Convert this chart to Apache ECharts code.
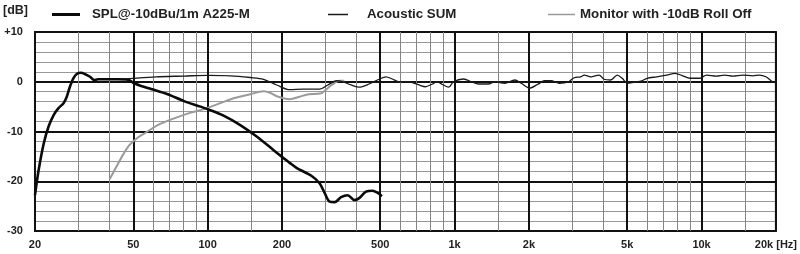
<!DOCTYPE html>
<html>
<head>
<meta charset="utf-8">
<script src="https://cdn.jsdelivr.net/npm/echarts@6/dist/echarts.min.js"></script>
<style>
html,body{margin:0;padding:0;background:#fff;}
#chart{width:800px;height:254px;}
</style>
</head>
<body>
<div id="chart"></div>
<script>
// ---- Data ----
const splFreq = [20, 20.7, 21.7, 22.7, 23.8, 24.9, 26.1, 26.9, 27.7, 28.6, 29.5, 30.7, 31.8, 33.4, 34.7, 36.0, 39.5, 43.4, 47.6, 50.5, 53.8, 59, 68.9, 80.3, 93.7, 100, 116, 135.6, 158, 184.5, 199, 215, 229, 263, 284, 298, 312, 327, 347, 369, 393, 411, 438, 465, 487, 508];
const splDb   = [-22.8, -17.7, -12.4, -9.0, -6.7, -5.3, -4.3, -3.0, -1.0, 0.7, 1.56, 1.8, 1.56, 1.0, 0.35, 0.5, 0.5, 0.5, 0.4, -0.3, -0.85, -1.46, -2.5, -3.9, -5.0, -5.5, -6.8, -8.7, -11.0, -13.7, -15.0, -16.3, -17.3, -18.9, -20.4, -22.4, -24.1, -24.2, -23.2, -22.8, -23.8, -23.4, -22.1, -21.9, -22.3, -23.0];

const sumFreq = [36, 43.4, 46.1, 61.8, 80.3, 100, 123.6, 148.7, 168.3, 190.4, 215, 243.6, 284, 307, 332, 352.6, 381, 411, 451, 495, 527, 560, 596, 653, 717, 762, 810, 849, 889, 946, 990, 1086, 1173, 1248, 1369, 1456, 1597, 1752, 1862, 2013, 2174, 2313, 2458, 2656, 2868, 3051, 3243, 3348, 3558, 3845, 4027, 4282, 4556, 4772, 4997, 5316, 5741, 6011, 6594, 7230, 7808, 8439, 8970, 9840, 10470, 11480, 12400, 13400, 14700, 16130, 17140, 18230, 19390, 20000];
const sumDb   = [0.5, 0.5, 0.55, 1.0, 1.15, 1.3, 1.2, 0.85, 0.5, -0.65, -1.6, -1.5, -1.5, -0.65, 0.2, 0.0, -0.65, -1.1, -0.45, 0.5, 1.0, 0.55, 0.0, 0.0, -0.65, -1.0, -0.5, 0.0, -0.5, -1.1, 0.0, 0.55, 0.0, -0.45, -0.45, 0.0, -0.3, 0.35, -0.3, -1.3, -0.5, 0.2, 0.2, -0.3, -0.1, 0.8, 1.0, 1.35, 1.0, 1.35, 0.5, 0.35, 1.35, 0.7, -0.3, -0.1, 0.2, 0.7, 1.0, 1.35, 1.7, 1.15, 0.7, 0.7, 1.35, 1.15, 1.35, 1.15, 1.35, 1.2, 1.35, 1.0, 0.0, -0.2];

const monFreq = [40.1, 42.7, 45.4, 48.3, 52.2, 55.5, 62.8, 73.2, 85.4, 96.6, 112.7, 127.5, 148.7, 168.3, 179, 190.4, 215, 236, 251, 289, 298, 317, 342, 358];
const monDb   = [-19.6, -17.1, -14.7, -12.7, -11.2, -10.4, -8.7, -7.35, -6.2, -5.5, -4.3, -3.3, -2.5, -1.9, -2.2, -2.9, -3.5, -3.0, -2.6, -2.3, -1.8, -0.7, 0.2, 0.2];

const seriesNames = ['SPL@-10dBu/1m A225-M', 'Acoustic SUM', 'Monitor with -10dB Roll Off'];

const xMajorTicks  = [20, 50, 100, 200, 500, 1000, 2000, 5000, 10000, 20000];
const xMajorLabels = ['20', '50', '100', '200', '500', '1k', '2k', '5k', '10k', '20k [Hz]'];
const xMinorTicks  = [30, 40, 60, 70, 80, 90, 150, 300, 400, 600, 700, 800, 900, 1500, 3000, 4000, 6000, 7000, 8000, 9000, 15000];

const yMin = -30, yMax = 10, yStep = 10;

// ---- Chart ----
const zip = (a, b) => a.map((v, i) => [v, b[i]]);
const FONT = '"Liberation Sans", Arial, sans-serif';
const chart = echarts.init(document.getElementById('chart'), null, {renderer: 'canvas'});

function labelFor(v) {
  for (let i = 0; i < xMajorTicks.length; i++) {
    if (Math.abs(Math.log10(v / xMajorTicks[i])) < 0.01) return xMajorLabels[i];
  }
  return '';
}

const logAxisBase = {
  type: 'log', logBase: 10, min: 20, max: 20000, position: 'bottom',
  axisLine: {show: false},
  axisTick: {show: false}
};
const legendText = {fontFamily: FONT, fontSize: 13.3, fontWeight: 'bold', color: '#222'};

chart.setOption({
  animation: false,
  backgroundColor: '#fff',
  textStyle: {fontFamily: FONT},
  legend: [
    {left: 52, top: 8, padding: 0, itemWidth: 28, itemHeight: 3, icon: 'rect', data: [seriesNames[0]],
     textStyle: Object.assign({padding: [0, 0, 0, 7]}, legendText)},
    {left: 328, top: 8, padding: 0, itemWidth: 20, itemHeight: 1.5, icon: 'rect', data: [seriesNames[1]],
     textStyle: Object.assign({padding: [0, 0, 0, 14]}, legendText)},
    {left: 548, top: 8, padding: 0, itemWidth: 27, itemHeight: 1.5, icon: 'rect', data: [seriesNames[2]],
     textStyle: legendText}
  ],
  grid: {left: 33, right: 20, top: 32, bottom: 23, show: true, borderColor: '#111', borderWidth: 2, backgroundColor: 'transparent'},
  xAxis: [
    Object.assign({}, logAxisBase, {
      axisTick: {show: false, customValues: xMinorTicks},
      axisLabel: {show: false},
      splitLine: {show: true, lineStyle: {color: '#858585', width: 1}},
      z: 1
    }),
    Object.assign({}, logAxisBase, {
      axisTick: {show: false, customValues: xMajorTicks},
      axisLabel: {show: true, customValues: xMajorTicks, formatter: labelFor, margin: 8,
                  fontFamily: FONT, fontSize: 11, fontWeight: 'bold', color: '#222'},
      splitLine: {show: true, lineStyle: {color: '#111', width: 2}},
      z: 2
    })
  ],
  yAxis: {
    type: 'value', min: yMin, max: yMax, interval: yStep,
    name: '[dB]', nameLocation: 'end', nameGap: 15,
    nameTextStyle: {fontFamily: FONT, fontSize: 12.5, fontWeight: 'bold', color: '#222', align: 'right', padding: [0, 7, 0, 0]},
    axisLine: {show: false}, axisTick: {show: false},
    axisLabel: {margin: 12, fontFamily: FONT, fontSize: 11, fontWeight: 'bold', color: '#222',
                formatter: v => (v > 0 ? '+' + v : String(v))},
    splitLine: {show: true, lineStyle: {color: '#111', width: 2}},
    minorTick: {show: false, splitNumber: 5},
    minorSplitLine: {show: true, lineStyle: {color: '#999', width: 1}}
  },
  series: [
    {name: seriesNames[2], type: 'line', xAxisIndex: 0, data: zip(monFreq, monDb), symbol: 'none',
     smooth: 0.3, lineStyle: {color: '#9a9a9a', width: 2}, itemStyle: {color: '#9a9a9a'}, z: 3},
    {name: seriesNames[1], type: 'line', xAxisIndex: 0, data: zip(sumFreq, sumDb), symbol: 'none',
     smooth: 0.3, lineStyle: {color: '#1a1a1a', width: 1.3}, itemStyle: {color: '#1a1a1a'}, z: 4},
    {name: seriesNames[0], type: 'line', xAxisIndex: 0, data: zip(splFreq, splDb), symbol: 'none',
     smooth: 0.3, lineStyle: {color: '#0a0a0a', width: 2.6}, itemStyle: {color: '#0a0a0a'}, z: 5}
  ]
});
</script>
</body>
</html>
